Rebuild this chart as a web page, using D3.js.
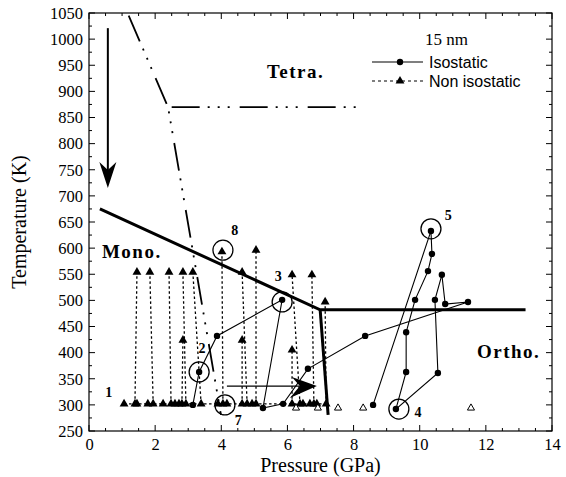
<!DOCTYPE html>
<meta charset="utf-8">
<title>Phase diagram 15 nm</title>
<style>

body {
  margin: 0;
  background: #fff;
}

text {
  font-family: "Liberation Serif", "Times New Roman", serif;
  fill: #000;
}

.legend text {
  font-family: "Liberation Sans", Arial, sans-serif;
}

</style>
<body>
<script src="https://d3js.org/d3.v7.min.js"></script>
<script>

var w = 566,
    h = 477;

var serif = "'Liberation Serif', 'Times New Roman', serif";

// axis ticks
var xTicks = [0, 2, 4, 6, 8, 10, 12, 14];
var yTicks = [250, 300, 350, 400, 450, 500, 550, 600, 650, 700, 750, 800, 850, 900, 950, 1000, 1050];

// isostatic run (solid line, dots)
var isoP = [3.14, 3.33, 3.87, 5.84, 5.26, 5.87, 6.62, 8.35, 11.46, 10.77, 10.67, 10.46, 10.55, 9.28, 9.59, 9.59, 9.86, 10.25, 10.37, 10.34, 8.59];
var isoT = [300, 363, 432, 501, 294, 302, 369, 432, 497, 493, 549, 501, 361, 292, 363, 439, 501, 556, 589, 633, 300];

// non isostatic runs: start pressure at room temperature, end point
var nonP0 = [1.39, 1.94, 2.48, 2.81, 2.93, 3.39, 4.05, 4.63, 4.78, 5.05, 6.14, 6.38, 6.80, 7.17];
var nonP1 = [1.45, 1.84, 2.42, 2.84, 2.84, 3.14, 4.02, 4.63, 4.63, 5.05, 6.14, 6.14, 6.74, 7.14];
var nonT1 = [554, 554, 554, 424, 554, 554, 593, 424, 554, 596, 405, 549, 549, 497];

// room temperature points
var baseP = [1.06, 1.39, 1.45, 1.78, 1.94, 2.24, 2.48, 2.60, 2.72, 2.81, 2.93, 3.39, 3.90, 4.05, 4.17, 4.63, 4.78, 4.93, 5.05, 6.14, 6.38, 6.47, 6.68, 6.80, 6.89, 7.17];
var baseT = 302;
var openP = [6.26, 6.92, 7.53, 8.29, 11.55];
var openT = 294;

// phase boundaries
var monoP = [0.33, 6.99, 13.2],
    monoT = [675, 482, 482];
var orthoP = [6.99, 7.23],
    orthoT = [482, 281];
var tetraP = [1.2, 2.39, 3.99],
    tetraT = [1045, 870, 281];
var tetraHP = [2.5, 8.26],
    tetraHT = [870, 870];

// circled points and numbers
var circP = [3.33, 4.05, 5.84, 4.11, 9.37, 10.34];
var circT = [363, 596, 497, 300, 292, 637];
var numText = ["1", "2", "3", "4", "5", "7", "8"];
var numP = [0.60, 3.42, 5.72, 9.95, 10.86, 4.51, 4.41];
var numT = [325, 409, 547, 286, 663, 271, 635];

var phaseText = ["Tetra.", "Mono.", "Ortho."];
var phaseP = [5.38, 0.39, 11.73];
var phaseT = [926, 581, 390];

// arrows
var vArrowP = 0.57, vArrowT = [1021, 715];
var hArrowT = 336, hArrowP = [4.17, 6.89];

var x = d3.scaleLinear().domain([0, 14]).range([89, 552]);
var y = d3.scaleLinear().domain([250, 1050]).range([431, 13]);

var svg = d3.select("body").append("svg")
    .attr("width", w)
    .attr("height", h);

var line = d3.line()
    .x(function(d) { return x(d[0]); })
    .y(function(d) { return y(d[1]); });

function pts(ps, ts) {
  return ps.map(function(p, i) { return [p, ts[i]]; });
}

// frame
svg.append("rect")
    .attr("x", x(0))
    .attr("y", y(1050))
    .attr("width", x(14) - x(0))
    .attr("height", y(250) - y(1050))
    .style("fill", "none")
    .style("stroke", "#000")
    .style("stroke-width", 1.2);

// inward ticks
var tickG = svg.append("g").style("stroke", "#000").style("stroke-width", 1);
d3.range(0, 14.01, 0.5).forEach(function(p) {
  var len = p % 2 === 0 ? 6 : 3;
  tickG.append("line").attr("x1", x(p)).attr("x2", x(p)).attr("y1", y(250)).attr("y2", y(250) - len);
  tickG.append("line").attr("x1", x(p)).attr("x2", x(p)).attr("y1", y(1050)).attr("y2", y(1050) + len);
});
d3.range(250, 1051, 25).forEach(function(t) {
  var len = t % 50 === 0 ? 6 : 3;
  tickG.append("line").attr("x1", x(0)).attr("x2", x(0) + len).attr("y1", y(t)).attr("y2", y(t));
  tickG.append("line").attr("x1", x(14)).attr("x2", x(14) - len).attr("y1", y(t)).attr("y2", y(t));
});

// axis labels
svg.append("g")
    .attr("transform", "translate(0," + y(250) + ")")
    .call(d3.axisBottom(x).tickValues(xTicks).tickFormat(d3.format("d")).tickSize(0).tickPadding(7))
    .attr("font-family", serif)
    .attr("font-size", 16.5)
    .call(function(g) { g.select(".domain").remove(); })
    .selectAll("text")
    .style("font-family", serif)
    .style("font-size", "16.5px");

svg.append("g")
    .attr("transform", "translate(" + x(0) + ",0)")
    .call(d3.axisLeft(y).tickValues(yTicks).tickFormat(d3.format("d")).tickSize(0).tickPadding(6))
    .attr("font-family", serif)
    .attr("font-size", 16.5)
    .call(function(g) { g.select(".domain").remove(); })
    .selectAll("text")
    .style("font-family", serif)
    .style("font-size", "16.5px");

svg.append("text")
    .attr("x", (x(0) + x(14)) / 2)
    .attr("y", 472)
    .attr("text-anchor", "middle")
    .style("font-family", serif)
    .style("font-size", "20px")
    .text("Pressure (GPa)");

svg.append("text")
    .attr("transform", "translate(26," + y(650) + ") rotate(-90)")
    .attr("text-anchor", "middle")
    .style("font-family", serif)
    .style("font-size", "20px")
    .text("Temperature (K)");

// phase boundaries
svg.append("path")
    .attr("d", line(pts(monoP, monoT)))
    .style("fill", "none").style("stroke", "#000").style("stroke-width", 3);
svg.append("path")
    .attr("d", line(pts(orthoP, orthoT)))
    .style("fill", "none").style("stroke", "#000").style("stroke-width", 3);
svg.selectAll(".tetra")
    .data([pts(tetraP, tetraT), pts(tetraHP, tetraHT)])
  .enter().append("path")
    .attr("class", "tetra")
    .attr("d", line)
    .style("fill", "none")
    .style("stroke", "#000")
    .style("stroke-width", 1.8)
    .style("stroke-dasharray", "28,8,2,8,2,8,2,10");

// non isostatic runs
var dotted = svg.append("g")
    .style("fill", "none")
    .style("stroke", "#000")
    .style("stroke-width", 1.3)
    .style("stroke-dasharray", "2.5,2.5");

dotted.append("path")
    .attr("d", line([[d3.min(baseP), baseT], [d3.max(baseP), baseT]]));

dotted.selectAll(".run")
    .data(nonP0)
  .enter().append("path")
    .attr("class", "run")
    .attr("d", function(d, i) { return line([[d, baseT], [nonP1[i], nonT1[i]]]); });

var tri = d3.symbol().type(d3.symbolTriangle).size(34);

svg.selectAll(".tri-top")
    .data(nonP1)
  .enter().append("path")
    .attr("class", "tri-top")
    .attr("d", tri)
    .attr("transform", function(d, i) { return "translate(" + x(d) + "," + y(nonT1[i]) + ")"; });

svg.selectAll(".tri-base")
    .data(baseP)
  .enter().append("path")
    .attr("class", "tri-base")
    .attr("d", tri)
    .attr("transform", function(d) { return "translate(" + x(d) + "," + y(baseT) + ")"; });

svg.selectAll(".tri-open")
    .data(openP)
  .enter().append("path")
    .attr("class", "tri-open")
    .attr("d", d3.symbol().type(d3.symbolTriangle).size(22))
    .attr("transform", function(d) { return "translate(" + x(d) + "," + y(openT) + ")"; })
    .style("fill", "#fff")
    .style("stroke", "#000")
    .style("stroke-width", 1);

// isostatic run
svg.append("path")
    .attr("d", line(pts(isoP, isoT)))
    .style("fill", "none")
    .style("stroke", "#000")
    .style("stroke-width", 1.1);

svg.selectAll(".iso")
    .data(isoP)
  .enter().append("circle")
    .attr("class", "iso")
    .attr("cx", function(d) { return x(d); })
    .attr("cy", function(d, i) { return y(isoT[i]); })
    .attr("r", 3.2);

// circled points
svg.selectAll(".ring")
    .data(circP)
  .enter().append("circle")
    .attr("class", "ring")
    .attr("cx", function(d) { return x(d); })
    .attr("cy", function(d, i) { return y(circT[i]); })
    .attr("r", 10)
    .style("fill", "none")
    .style("stroke", "#000")
    .style("stroke-width", 1.3);

svg.selectAll(".num")
    .data(numText)
  .enter().append("text")
    .attr("class", "num")
    .attr("x", function(d, i) { return x(numP[i]); })
    .attr("y", function(d, i) { return y(numT[i]); })
    .attr("dy", "0.35em")
    .attr("text-anchor", "middle")
    .style("font-family", serif)
    .style("font-size", "14px")
    .style("font-weight", "bold")
    .text(function(d) { return d; });

svg.selectAll(".phase")
    .data(phaseText)
  .enter().append("text")
    .attr("class", "phase")
    .attr("x", function(d, i) { return x(phaseP[i]); })
    .attr("y", function(d, i) { return y(phaseT[i]); })
    .style("font-family", serif)
    .style("font-size", "19px")
    .style("font-weight", "bold")
    .style("letter-spacing", "1.5px")
    .text(function(d) { return d; });

// arrows
svg.append("line")
    .attr("x1", x(vArrowP)).attr("x2", x(vArrowP))
    .attr("y1", y(vArrowT[0])).attr("y2", y(vArrowT[1]) - 10)
    .style("stroke", "#000").style("stroke-width", 2);
svg.append("path")
    .attr("d", "M0,0L-26,-8.5L-18,0L-26,8.5Z")
    .attr("transform", "translate(" + x(vArrowP) + "," + y(vArrowT[1]) + ") rotate(90)");

svg.append("line")
    .attr("x1", x(hArrowP[0])).attr("x2", x(hArrowP[1]) - 10)
    .attr("y1", y(hArrowT)).attr("y2", y(hArrowT))
    .style("stroke", "#000").style("stroke-width", 1.3);
svg.append("path")
    .attr("d", "M0,0L-25,-9L-17,0L-27,12Z")
    .attr("transform", "translate(" + x(hArrowP[1]) + "," + y(hArrowT) + ")");

// legend
svg.append("text")
    .attr("x", 425)
    .attr("y", 45)
    .style("font-family", serif)
    .style("font-size", "17px")
    .text("15 nm");

var legend = svg.append("g").attr("class", "legend");

legend.append("line")
    .attr("x1", 372).attr("x2", 423).attr("y1", 62).attr("y2", 62)
    .style("stroke", "#000").style("stroke-width", 1.1);
legend.append("circle").attr("cx", 400).attr("cy", 62).attr("r", 3.2);
legend.append("text").attr("x", 429).attr("y", 62).attr("dy", "0.35em")
    .style("font-size", "16px").text("Isostatic");

legend.append("line")
    .attr("x1", 372).attr("x2", 423).attr("y1", 81).attr("y2", 81)
    .style("stroke", "#000").style("stroke-width", 1.1)
    .style("stroke-dasharray", "3,3");
legend.append("path").attr("d", tri).attr("transform", "translate(400,81)");
legend.append("text").attr("x", 429).attr("y", 81).attr("dy", "0.35em")
    .style("font-size", "16px").text("Non isostatic");

</script>
